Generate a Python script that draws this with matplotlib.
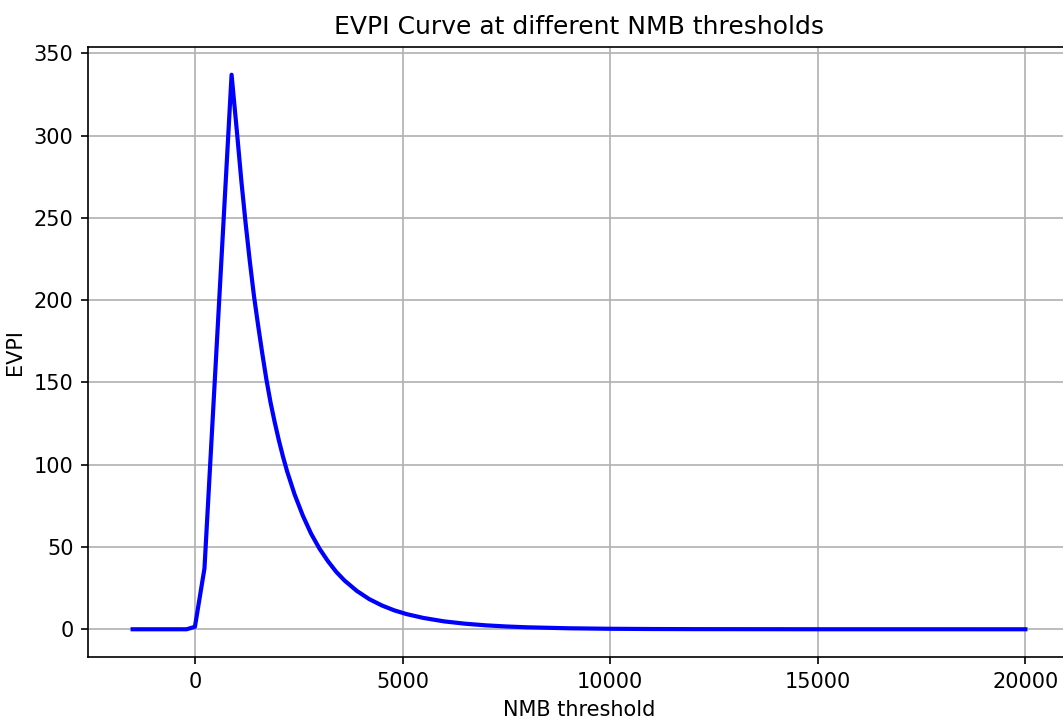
import matplotlib
matplotlib.use("Agg")
import matplotlib.pyplot as plt

# NMB thresholds and EVPI values
nmb_threshold = [-1500, -200, 0, 230, 883, 1020, 1120, 1220, 1320, 1420, 1520,
                 1620, 1720, 1820, 1920, 2020, 2120, 2220, 2400, 2600, 2800,
                 3000, 3200, 3400, 3600, 3900, 4200, 4500, 4800, 5100, 5500,
                 6000, 6500, 7000, 7500, 8000, 9000, 10000, 11000, 12000,
                 15000, 20000]
evpi = [0, 0, 1.5, 37, 337, 300, 272, 247, 224, 203, 185,
        168, 152, 138, 126, 115, 105, 96, 82, 69, 58,
        49, 41.5, 35, 29.7, 23.3, 18.3, 14.5, 11.5, 9.2, 6.9,
        4.8, 3.4, 2.4, 1.7, 1.2, 0.6, 0.3, 0.15, 0.08,
        0.01, 0]

fig = plt.figure(figsize=(1063 / 150, 722 / 150), dpi=150)
ax = fig.add_axes([88 / 1063, 1 - 657 / 722, (1070 - 88) / 1063, (657 - 47) / 722])

ax.plot(nmb_threshold, evpi, color='blue', linewidth=2)
ax.set_xlabel('NMB threshold')
ax.set_ylabel('EVPI')
ax.set_title('EVPI Curve at different NMB thresholds')
ax.grid(True)

fig.savefig('out.png', dpi=150)
